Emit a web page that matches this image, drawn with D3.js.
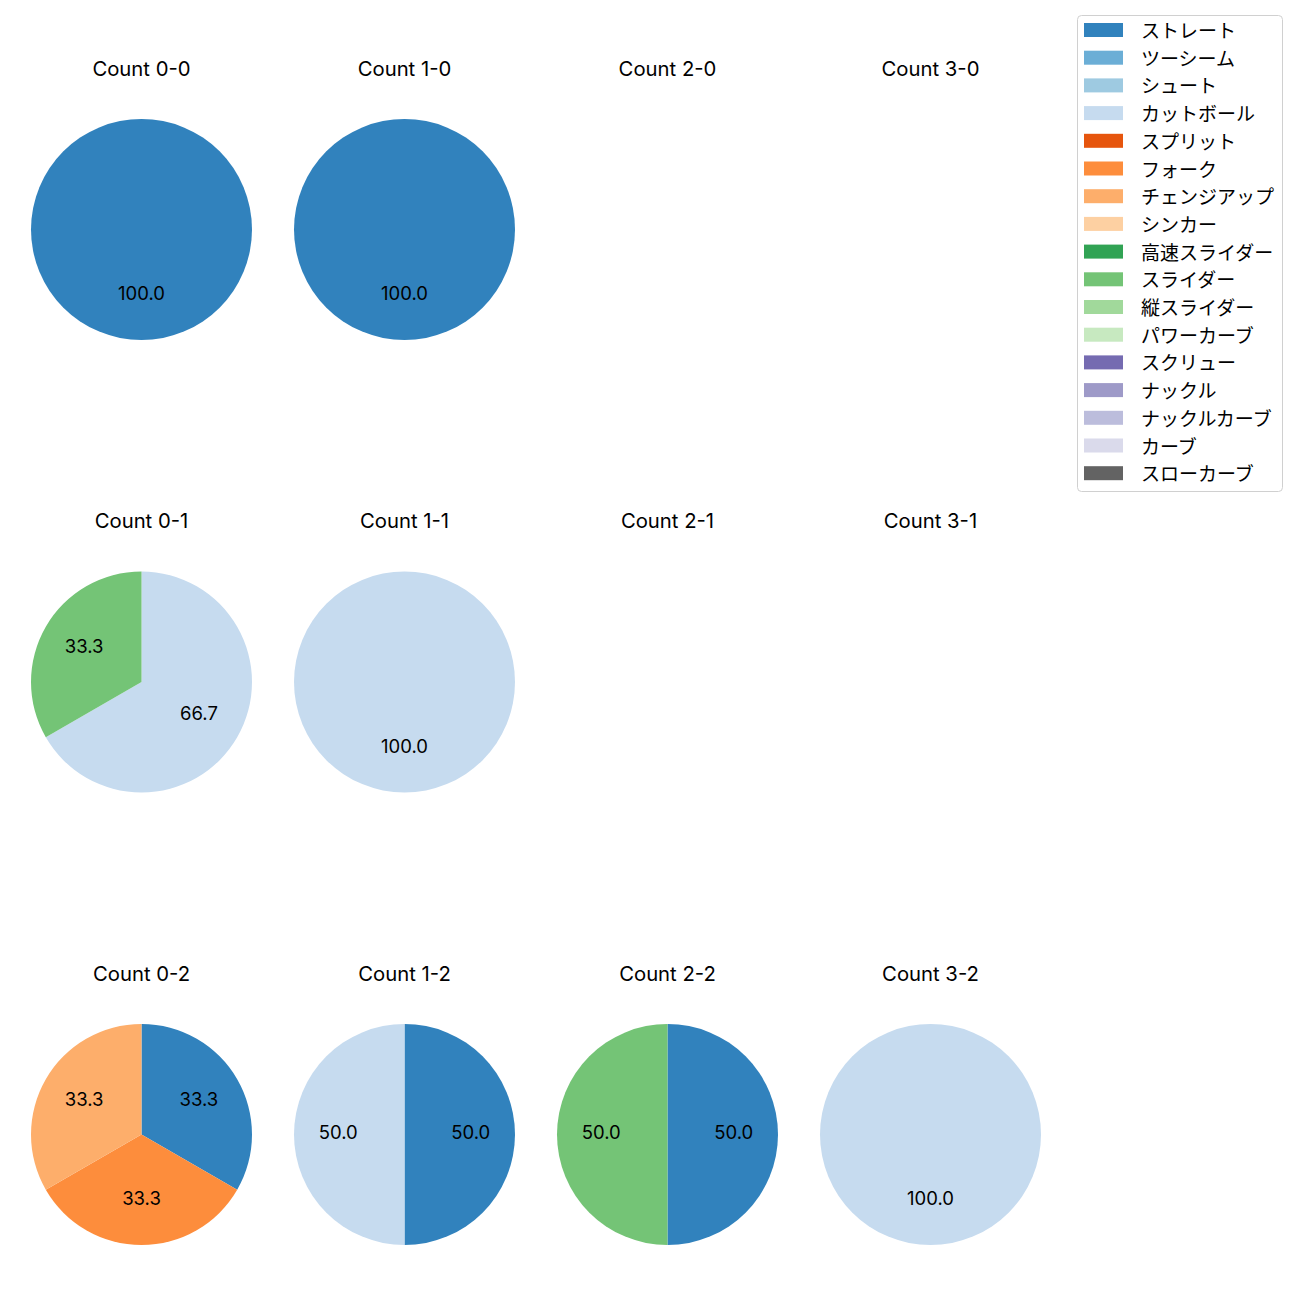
<!DOCTYPE html>
<html><head><meta charset="utf-8">
<script src="https://cdn.jsdelivr.net/npm/d3@7"></script>
<style>body{margin:0;background:#fff;} svg{display:block;} text{font-family:"Noto Sans CJK JP","Noto Sans",sans-serif;} .lat{font-family:Inter,"DejaVu Sans",sans-serif;}</style>
</head><body>
<svg id="chart" width="1300" height="1300"></svg>
<script>
const pitchTypes = ["ストレート","ツーシーム","シュート","カットボール","スプリット","フォーク","チェンジアップ","シンカー","高速スライダー","スライダー","縦スライダー","パワーカーブ","スクリュー","ナックル","ナックルカーブ","カーブ","スローカーブ"];
const pitchColors = ["#3182bd","#6baed6","#9ecae1","#c6dbef","#e6550d","#fd8d3c","#fdae6b","#fdd0a2","#31a354","#74c476","#a1d99b","#c7e9c0","#756bb1","#9e9ac8","#bcbddc","#dadaeb","#636363"];
const panelTitles = ["Count 0-0","Count 1-0","Count 2-0","Count 3-0","Count 0-1","Count 1-1","Count 2-1","Count 3-1","Count 0-2","Count 1-2","Count 2-2","Count 3-2"];
// counts per pitch type (order of pitchTypes)
const count00 = [1,0,0,0,0,0,0,0,0,0,0,0,0,0,0,0,0];
const count10 = [1,0,0,0,0,0,0,0,0,0,0,0,0,0,0,0,0];
const count20 = [0,0,0,0,0,0,0,0,0,0,0,0,0,0,0,0,0];
const count30 = [0,0,0,0,0,0,0,0,0,0,0,0,0,0,0,0,0];
const count01 = [0,0,0,2,0,0,0,0,0,1,0,0,0,0,0,0,0];
const count11 = [0,0,0,1,0,0,0,0,0,0,0,0,0,0,0,0,0];
const count21 = [0,0,0,0,0,0,0,0,0,0,0,0,0,0,0,0,0];
const count31 = [0,0,0,0,0,0,0,0,0,0,0,0,0,0,0,0,0];
const count02 = [1,0,0,0,0,1,1,0,0,0,0,0,0,0,0,0,0];
const count12 = [1,0,0,1,0,0,0,0,0,0,0,0,0,0,0,0,0];
const count22 = [1,0,0,0,0,0,0,0,0,1,0,0,0,0,0,0,0];
const count32 = [0,0,0,1,0,0,0,0,0,0,0,0,0,0,0,0,0];
const panelData = [count00,count10,count20,count30,count01,count11,count21,count31,count02,count12,count22,count32];

const svg = d3.select("#chart");
const color = d3.scaleOrdinal().domain(pitchTypes).range(pitchColors);
const colX = [141.5, 404.5, 667.5, 930.5];
const rowY = [229.5, 682, 1134.5];
const R = 110.5;
const arc = d3.arc().innerRadius(0).outerRadius(R);
const labelArc = d3.arc().innerRadius(R*0.6).outerRadius(R*0.6);
const pie = d3.pie().sort(null).value(d => d.v);

panelData.forEach((vals, i) => {
  const cx = colX[i % 4], cy = rowY[Math.floor(i / 4)];
  const g = svg.append("g").attr("transform", `translate(${cx},${cy})`);
  g.append("text").attr("class","lat").attr("x", 0).attr("y", -154).attr("text-anchor", "middle")
    .attr("font-size", 20.3).attr("fill", "#000").text(panelTitles[i]);
  const data = vals.map((v, k) => ({name: pitchTypes[k], v})).filter(d => d.v > 0);
  if (!data.length) return;
  const total = d3.sum(data, d => d.v);
  const arcs = pie(data);
  g.selectAll("path").data(arcs).join("path")
    .attr("d", arc).attr("fill", d => color(d.data.name));
  g.selectAll("text.lbl").data(arcs).join("text").attr("class","lbl lat")
    .attr("transform", d => { const c = labelArc.centroid(d); return `translate(${c[0]},${c[1] + 4.5})`; })
    .attr("text-anchor", "middle")
    .attr("font-size", 18.5).attr("fill", "#000")
    .text(d => (d.data.v / total * 100).toFixed(1));
});

// legend
const lg = svg.append("g");
lg.append("rect").attr("x", 1077.5).attr("y", 15.5).attr("width", 205).attr("height", 476)
  .attr("rx", 4).attr("fill", "#fff").attr("stroke", "#d0d0d0").attr("stroke-width", 1);
pitchTypes.forEach((p, k) => {
  const y = 29.5 + k * 27.7;
  lg.append("rect").attr("x", 1084).attr("y", y - 6.5).attr("width", 39).attr("height", 14).attr("fill", color(p));
  lg.append("text").attr("x", 1141).attr("y", y).attr("dominant-baseline", "central")
    .attr("font-size", 19).attr("fill", "#000").text(p);
});
</script>
</body></html>
